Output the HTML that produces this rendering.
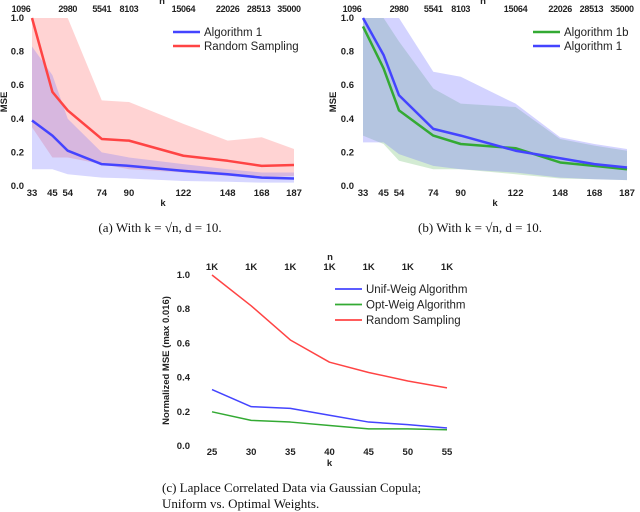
<!DOCTYPE html>
<html><head><meta charset="utf-8"><style>
body{margin:0;background:#fff;width:640px;height:512px;overflow:hidden}
svg{display:block}
.t{font-family:"Liberation Sans",sans-serif;font-weight:bold;font-size:9.5px;fill:#222}
.tt{font-family:"Liberation Sans",sans-serif;font-weight:bold;font-size:9px;letter-spacing:-0.3px;fill:#222}
.lg{font-family:"Liberation Sans",sans-serif;font-size:11.5px;fill:#222}
.cap{font-family:"Liberation Serif",serif;font-size:13px;fill:#111}
</style></head><body>
<svg id="s" width="640" height="512"></svg>
<script>
const kA=[33,45,54,74,90,122,148,168,187];
const nA=["1096","2980","5541","8103","15064","22026","28513","35000"];
const nAk=[33,54,74,90,122,148,168,187];
const a_alg1=[0.39,0.30,0.21,0.13,0.12,0.09,0.07,0.05,0.045];
const a_alg1_lo=[0.10,0.10,0.07,0.05,0.045,0.03,0.025,0.02,0.02];
const a_alg1_hi=[0.83,0.66,0.40,0.20,0.17,0.13,0.10,0.08,0.08];
const a_rand=[1.0,0.56,0.45,0.28,0.27,0.18,0.15,0.12,0.125];
const a_rand_lo=[0.35,0.17,0.17,0.13,0.10,0.08,0.06,0.05,0.06];
const a_rand_hi=[1.0,1.0,1.0,0.51,0.50,0.37,0.27,0.29,0.22];
const b_alg1b=[0.95,0.70,0.45,0.30,0.25,0.225,0.14,0.12,0.10];
const b_alg1b_lo=[0.30,0.25,0.15,0.10,0.10,0.07,0.045,0.04,0.035];
const b_alg1b_hi=[1.0,1.0,0.86,0.58,0.49,0.47,0.28,0.24,0.21];
const b_alg1=[1.0,0.78,0.54,0.34,0.30,0.21,0.165,0.13,0.11];
const b_alg1_lo=[0.26,0.26,0.19,0.12,0.10,0.08,0.05,0.04,0.035];
const b_alg1_hi=[1.0,1.0,1.0,0.68,0.65,0.49,0.29,0.25,0.22];
const kC=[25,30,35,40,45,50,55];
const c_unif=[0.33,0.23,0.22,0.18,0.14,0.125,0.105];
const c_opt=[0.20,0.15,0.14,0.12,0.10,0.10,0.095];
const c_rand=[1.0,0.82,0.62,0.49,0.43,0.38,0.34];
const yTicks=[0,0.2,0.4,0.6,0.8,1.0];

const S=document.getElementById('s');const NS='http://www.w3.org/2000/svg';
function el(t,a,txt){const e=document.createElementNS(NS,t);for(const k in a)e.setAttribute(k,a[k]);if(txt!==undefined)e.textContent=txt;S.appendChild(e);return e;}
function axes(x0,x1,k0,k1,yT,yB){return{x:k=>x0+(k-k0)/(k1-k0)*(x1-x0),y:v=>yB-v*(yB-yT)};}
function band(ax,ks,lo,hi,fill,name){let d='';ks.forEach((k,i)=>d+=(i?'L':'M')+ax.x(k)+','+ax.y(hi[i]));for(let i=ks.length-1;i>=0;i--)d+='L'+ax.x(ks[i])+','+ax.y(lo[i]);const e=el('path',{d:d+'Z',fill:fill});

}
function line(ax,ks,v,col,w,name){const e=el('polyline',{points:ks.map((k,i)=>ax.x(k)+','+ax.y(v[i])).join(' '),fill:'none',stroke:col,'stroke-width':w,'stroke-linejoin':'round'});

}
function yaxis(ax,xl,label,lx){yTicks.forEach(v=>{const e=el('text',{x:xl,y:ax.y(v)+3,class:'t','text-anchor':'end'},v.toFixed(1));

});
const ym=(ax.y(0)+ax.y(1))/2;const e=el('text',{x:lx,y:ym,class:'t','text-anchor':'middle',transform:`rotate(-90 ${lx} ${ym})`},label);

}
function xaxis(ax,ks,yl,ky){ks.forEach(k=>{const e=el('text',{x:ax.x(k),y:yl,class:'t','text-anchor':'middle'},k);

});
const e=el('text',{x:(ax.x(ks[0])+ax.x(ks[ks.length-1]))/2,y:ky,class:'t','text-anchor':'middle'},'k');

}
function topaxis(ax,ks,labs,y,nx,ny,sh){ks.forEach((k,i)=>{let dx=0;if(sh){if(i==0)dx=-11;if(i==ks.length-2)dx=-3;if(i==ks.length-1)dx=-5;}const e=el('text',{x:ax.x(k)+dx,y:y,class:sh?'tt':'t','text-anchor':'middle'},labs[i]);

});
const e=el('text',{x:nx,y:ny,class:'t','text-anchor':'middle'},'n');

}
function legend(x,y,items,gap,w){items.forEach((it,i)=>{const l=el('line',{x1:x,x2:x+27,y1:y+i*gap,y2:y+i*gap,stroke:it[1],'stroke-width':w});


const t=el('text',{x:x+31,y:y+i*gap+4,class:'lg'},it[0]);

});}

// (a)
const A=axes(32,294,33,187,18,186);
band(A,kA,a_rand_lo,a_rand_hi,'rgba(255,110,110,0.3)','band-random-sampling');
band(A,kA,a_alg1_lo,a_alg1_hi,'rgba(110,110,255,0.28)','band-algorithm-1');
line(A,kA,a_rand,'#f44','2.5','line-random-sampling');
line(A,kA,a_alg1,'#44f','2.5','line-algorithm-1');
yaxis(A,24,'MSE',7);xaxis(A,kA,196,206);topaxis(A,nAk,nA,12,162,4,true);
legend(173,32,[['Algorithm 1','#44f'],['Random Sampling','#f44']],14,2.5);
// (b)
const B=axes(363,627,33,187,18,186);
band(B,kA,b_alg1b_lo,b_alg1b_hi,'rgba(110,190,110,0.3)','band-algorithm-1b');
band(B,kA,b_alg1_lo,b_alg1_hi,'rgba(110,110,255,0.3)','band-algorithm-1');
line(B,kA,b_alg1b,'#3a3','2.5','line-algorithm-1b');
line(B,kA,b_alg1,'#44f','2.5','line-algorithm-1');
yaxis(B,354,'MSE',336);xaxis(B,kA,196,206);topaxis(B,nAk,nA,12,483,4,true);
legend(533,32,[['Algorithm 1b','#3a3'],['Algorithm 1','#44f']],14,2.5);
// (c)
const C=axes(212,447,25,55,275,446);
line(C,kC,c_rand,'#f44','1.5','line-random-sampling');
line(C,kC,c_unif,'#44f','1.5','line-unif-weig');
line(C,kC,c_opt,'#3a3','1.5','line-opt-weig');
yaxis(C,190,'Normalized MSE (max 0.016)',169);xaxis(C,kC,455,466);
topaxis(C,kC,kC.map(()=> '1K'),270,330,260,false);
legend(335,289,[['Unif-Weig Algorithm','#44f'],['Opt-Weig Algorithm','#3a3'],['Random Sampling','#f44']],15.5,1.8);
// captions
[[160,232,'(a) With k = √n, d = 10.'],[480,232,'(b) With k = √n, d = 10.']].forEach(c=>{const e=el('text',{x:c[0],y:c[1],class:'cap','text-anchor':'middle'},c[2]);

});
const c1=el('text',{x:162,y:492,class:'cap'},'(c) Laplace Correlated Data via Gaussian Copula;');


const c2=el('text',{x:162,y:508,class:'cap'},'Uniform vs. Optimal Weights.');


</script>
</body></html>
